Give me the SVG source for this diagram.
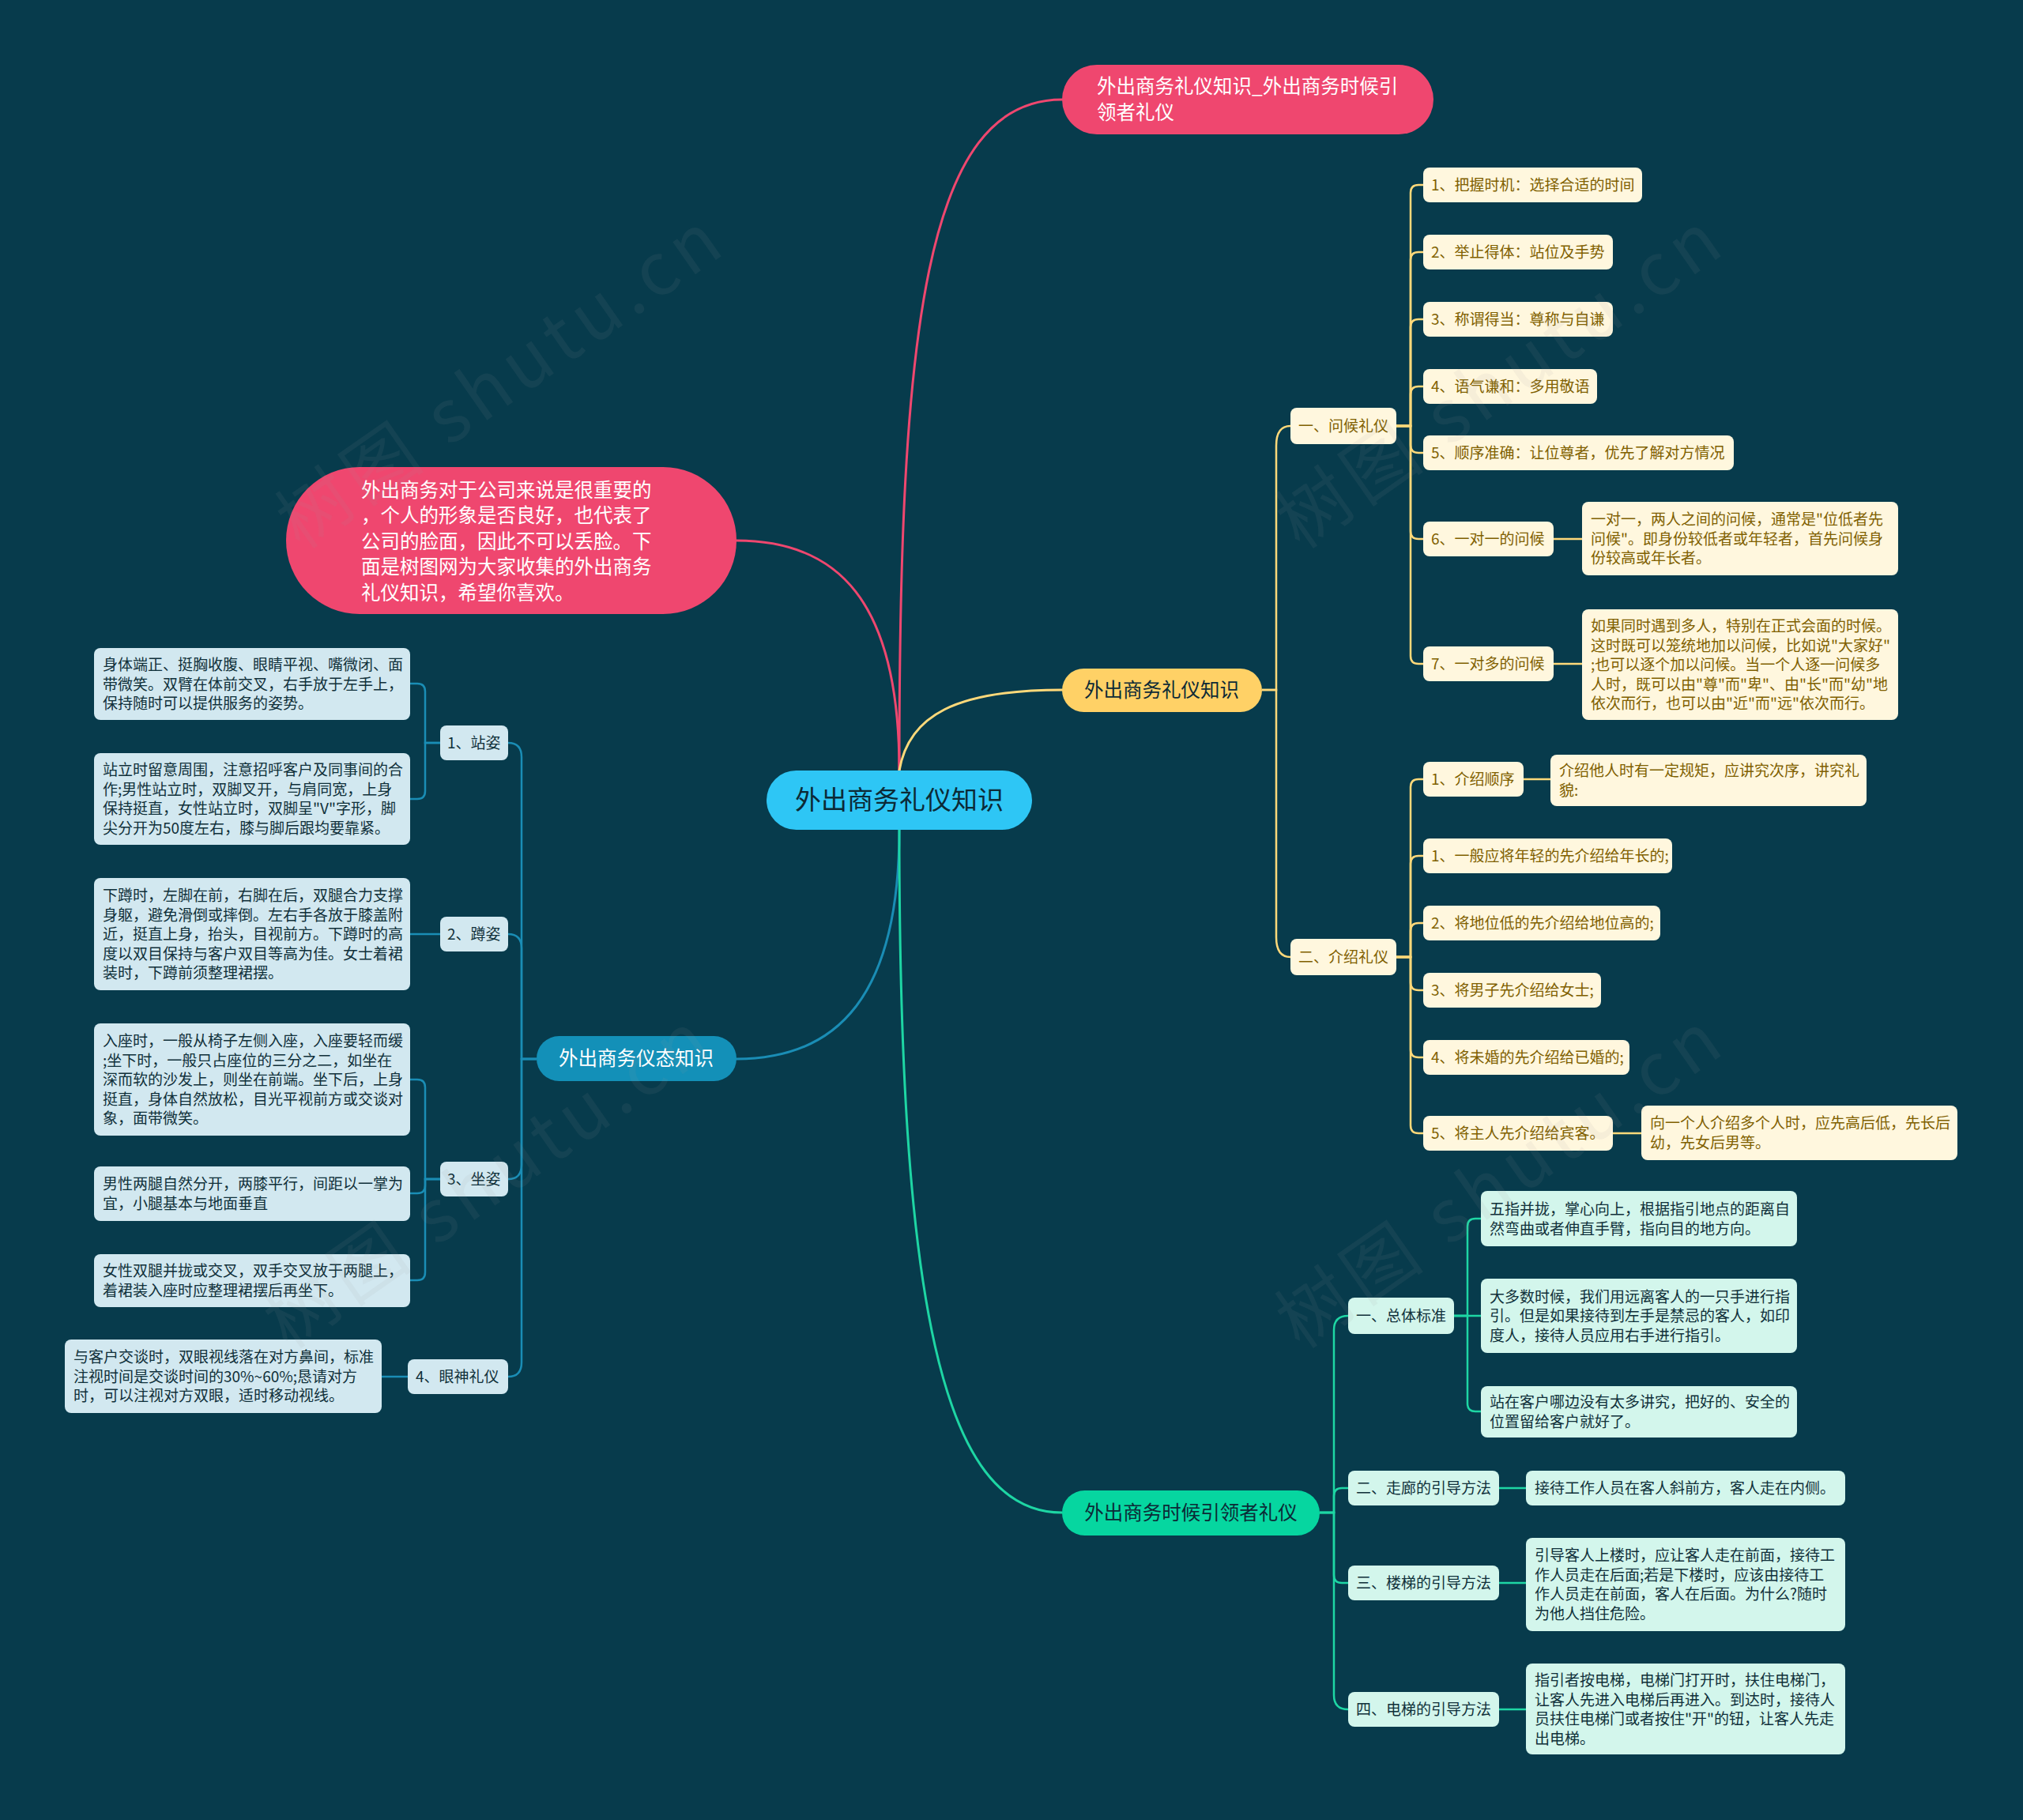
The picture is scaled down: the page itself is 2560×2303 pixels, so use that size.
<svg xmlns="http://www.w3.org/2000/svg" width="2560" height="2303" viewBox="0 0 2560 2303">
<style>
text{font-family:"Noto Sans CJK SC","Liberation Sans",sans-serif;}
.bg{fill:#073B4C;}
.pk{fill:#EF476F;}
.ctr{fill:#2EC6F5;}
.ym{fill:#FFD166;}
.gm{fill:#06D6A0;}
.bm{fill:#1390B8;}
.yl{fill:#FFF7DE;}
.gl{fill:#D3F6EC;}
.bl{fill:#D2E8F0;}
.ty{font-size:19px;fill:#7F6000;}
.tg{font-size:19px;fill:#10303A;}
.tb{font-size:19px;fill:#10303A;}
.tw{font-size:24.5px;fill:#FFFFFF;}
.tm{font-size:24.5px;fill:#0C2A36;}
.c{fill:none;stroke-width:3;stroke-linecap:round;}
.s{fill:none;stroke-width:2.5;}
.cp{stroke:#EF476F;}
.cy{stroke:#FFD97A;}
.cg{stroke:#1ED6A4;}
.cb{stroke:#1A8DB5;}
.wm{font-size:92px;fill:#9A9A9A;fill-opacity:0.09;letter-spacing:8px;}
</style>
<rect class="bg" x="0" y="0" width="2560" height="2303"/>

<g id="connectors">
<path class="c cp" d="M1138,975 C1138,420 1170,126 1344,126"/>
<path class="c cp" d="M1138,975 C1138,760 1060,684 932,684"/>
<path class="c cy" d="M1138,975 C1150,905 1210,873 1344,873"/>
<path class="c cb" d="M1138,1050 C1138,1260 1060,1340 932,1340"/>
<path class="c cg" d="M1138,1050 C1138,1640 1190,1914 1344,1914"/>

<path class="s cy" d="M1597,873 H1615 V564 Q1615,539 1633,539"/>
<path class="s cy" d="M1597,873 H1615 V1186 Q1615,1211 1633,1211"/>

<path class="s cy" d="M1767,539 H1785 V244 Q1785,234 1795,234 H1801"/>
<path class="s cy" d="M1767,539 H1785 V329 Q1785,319 1795,319 H1801"/>
<path class="s cy" d="M1767,539 H1785 V414 Q1785,404 1795,404 H1801"/>
<path class="s cy" d="M1767,539 H1785 V499 Q1785,489 1795,489 H1801"/>
<path class="s cy" d="M1767,539 H1785 V563 Q1785,573 1795,573 H1801"/>
<path class="s cy" d="M1767,539 H1785 V672 Q1785,682 1795,682 H1801"/>
<path class="s cy" d="M1767,539 H1785 V830 Q1785,840 1795,840 H1801"/>
<path class="s cy" d="M1966,682 H2002"/>
<path class="s cy" d="M1966,840 H2002"/>

<path class="s cy" d="M1767,1211 H1785 V996 Q1785,986 1795,986 H1801"/>
<path class="s cy" d="M1767,1211 H1785 V1093 Q1785,1083 1795,1083 H1801"/>
<path class="s cy" d="M1767,1211 H1785 V1178 Q1785,1168 1795,1168 H1801"/>
<path class="s cy" d="M1767,1211 H1785 V1243 Q1785,1253 1795,1253 H1801"/>
<path class="s cy" d="M1767,1211 H1785 V1328 Q1785,1338 1795,1338 H1801"/>
<path class="s cy" d="M1767,1211 H1785 V1424 Q1785,1434 1795,1434 H1801"/>
<path class="s cy" d="M1928,986 H1962"/>
<path class="s cy" d="M2041,1434 H2077"/>

<path class="s cg" d="M1670,1914 H1688 V1683 Q1688,1665 1706,1665"/>
<path class="s cg" d="M1670,1914 H1688 V1893 Q1688,1883 1698,1883 H1706"/>
<path class="s cg" d="M1670,1914 H1688 V1993 Q1688,2003 1698,2003 H1706"/>
<path class="s cg" d="M1670,1914 H1688 V2145 Q1688,2163 1706,2163"/>
<path class="s cg" d="M1840,1665 H1857 V1552 Q1857,1542 1867,1542 H1874"/>
<path class="s cg" d="M1840,1665 H1874"/>
<path class="s cg" d="M1840,1665 H1857 V1776 Q1857,1786 1867,1786 H1874"/>
<path class="s cg" d="M1897,1883 H1931"/>
<path class="s cg" d="M1897,2003 H1931"/>
<path class="s cg" d="M1897,2163 H1931"/>

<path class="s cb" d="M679,1340 H660 V958 Q660,940 643,940"/>
<path class="s cb" d="M679,1340 H660 V1200 Q660,1182 643,1182"/>
<path class="s cb" d="M679,1340 H660 V1474 Q660,1492 643,1492"/>
<path class="s cb" d="M679,1340 H660 V1724 Q660,1742 643,1742"/>
<path class="s cb" d="M557,940 H538 V875 Q538,865 528,865 H519"/>
<path class="s cb" d="M557,940 H538 V1001 Q538,1011 528,1011 H519"/>
<path class="s cb" d="M557,1182 H519"/>
<path class="s cb" d="M557,1492 H538 V1376 Q538,1366 528,1366 H519"/>
<path class="s cb" d="M557,1492 H538 V1500 Q538,1510 528,1510 H519"/>
<path class="s cb" d="M557,1492 H538 V1610 Q538,1620 528,1620 H519"/>
<path class="s cb" d="M516,1742 H483"/>
</g>

<g id="center">
<rect class="ctr" x="970" y="975" width="336" height="75" rx="37.5"/>
<text x="1138" y="1024" text-anchor="middle" style="font-size:33px;fill:#0C2A36">外出商务礼仪知识</text>
</g>

<g id="title-node">
<rect class="pk" x="1344" y="82" width="470" height="88" rx="44"/>
<text class="tw" x="1388" y="118">外出商务礼仪知识_外出商务时候引</text>
<text class="tw" x="1388" y="151">领者礼仪</text>
</g>

<g id="intro-node">
<rect class="pk" x="362" y="591" width="570" height="186" rx="93"/>
<text class="tw" x="457" y="629">外出商务对于公司来说是很重要的</text>
<text class="tw" x="457" y="661">，个人的形象是否良好，也代表了</text>
<text class="tw" x="457" y="694">公司的脸面，因此不可以丢脸。下</text>
<text class="tw" x="457" y="726">面是树图网为大家收集的外出商务</text>
<text class="tw" x="457" y="759">礼仪知识，希望你喜欢。</text>
</g>

<g id="yellow-main">
<rect class="ym" x="1344" y="846" width="253" height="55" rx="27.5"/>
<text class="tm" x="1470" y="882" text-anchor="middle">外出商务礼仪知识</text>
</g>

<g id="y-greet">
<rect class="yl" x="1633" y="516" width="134" height="46" rx="8"/>
<text class="ty" x="1643" y="546">一、问候礼仪</text>
</g>
<g id="y-intro">
<rect class="yl" x="1633" y="1188" width="134" height="46" rx="8"/>
<text class="ty" x="1643" y="1218">二、介绍礼仪</text>
</g>

<g id="y1"><rect class="yl" x="1801" y="212" width="277" height="44" rx="8"/><text class="ty" x="1811" y="241">1、把握时机：选择合适的时间</text></g>
<g id="y2"><rect class="yl" x="1801" y="297" width="240" height="44" rx="8"/><text class="ty" x="1811" y="326">2、举止得体：站位及手势</text></g>
<g id="y3"><rect class="yl" x="1801" y="382" width="240" height="44" rx="8"/><text class="ty" x="1811" y="411">3、称谓得当：尊称与自谦</text></g>
<g id="y4"><rect class="yl" x="1801" y="467" width="220" height="44" rx="8"/><text class="ty" x="1811" y="496">4、语气谦和：多用敬语</text></g>
<g id="y5"><rect class="yl" x="1801" y="551" width="393" height="44" rx="8"/><text class="ty" x="1811" y="580">5、顺序准确：让位尊者，优先了解对方情况</text></g>
<g id="y6"><rect class="yl" x="1801" y="660" width="165" height="44" rx="8"/><text class="ty" x="1811" y="689">6、一对一的问候</text></g>
<g id="y6d"><rect class="yl" x="2002" y="635" width="400" height="93" rx="8"/>
<text class="ty" x="2013" y="664">一对一，两人之间的问候，通常是"位低者先</text>
<text class="ty" x="2013" y="688.5">问候"。即身份较低者或年轻者，首先问候身</text>
<text class="ty" x="2013" y="713">份较高或年长者。</text></g>
<g id="y7"><rect class="yl" x="1801" y="818" width="165" height="44" rx="8"/><text class="ty" x="1811" y="847">7、一对多的问候</text></g>
<g id="y7d"><rect class="yl" x="2002" y="771" width="400" height="140" rx="8"/>
<text class="ty" x="2013" y="799">如果同时遇到多人，特别在正式会面的时候。</text>
<text class="ty" x="2013" y="823.5">这时既可以笼统地加以问候，比如说"大家好"</text>
<text class="ty" x="2013" y="848">;也可以逐个加以问候。当一个人逐一问候多</text>
<text class="ty" x="2013" y="872.5">人时，既可以由"尊"而"卑"、由"长"而"幼"地</text>
<text class="ty" x="2013" y="897">依次而行，也可以由"近"而"远"依次而行。</text></g>

<g id="m1"><rect class="yl" x="1801" y="964" width="127" height="44" rx="8"/><text class="ty" x="1811" y="993">1、介绍顺序</text></g>
<g id="m1d"><rect class="yl" x="1962" y="955" width="400" height="65" rx="8"/>
<text class="ty" x="1973" y="982">介绍他人时有一定规矩，应讲究次序，讲究礼</text>
<text class="ty" x="1973" y="1006.5">貌:</text></g>
<g id="m2"><rect class="yl" x="1801" y="1061" width="315" height="44" rx="8"/><text class="ty" x="1811" y="1090">1、一般应将年轻的先介绍给年长的;</text></g>
<g id="m3"><rect class="yl" x="1801" y="1146" width="300" height="44" rx="8"/><text class="ty" x="1811" y="1175">2、将地位低的先介绍给地位高的;</text></g>
<g id="m4"><rect class="yl" x="1801" y="1231" width="225" height="44" rx="8"/><text class="ty" x="1811" y="1260">3、将男子先介绍给女士;</text></g>
<g id="m5"><rect class="yl" x="1801" y="1316" width="261" height="44" rx="8"/><text class="ty" x="1811" y="1345">4、将未婚的先介绍给已婚的;</text></g>
<g id="m6"><rect class="yl" x="1801" y="1412" width="240" height="44" rx="8"/><text class="ty" x="1811" y="1441">5、将主人先介绍给宾客。</text></g>
<g id="m6d"><rect class="yl" x="2077" y="1399" width="400" height="69" rx="8"/>
<text class="ty" x="2088" y="1428">向一个人介绍多个人时，应先高后低，先长后</text>
<text class="ty" x="2088" y="1452.5">幼，先女后男等。</text></g>

<g id="green-main">
<rect class="gm" x="1344" y="1886" width="326" height="57" rx="28.5"/>
<text class="tm" x="1507" y="1923" text-anchor="middle">外出商务时候引领者礼仪</text>
</g>
<g id="g1"><rect class="gl" x="1706" y="1642" width="134" height="46" rx="8"/><text class="tg" x="1716" y="1672">一、总体标准</text></g>
<g id="g1a"><rect class="gl" x="1874" y="1507" width="400" height="70" rx="8"/>
<text class="tg" x="1885" y="1537">五指并拢，掌心向上，根据指引地点的距离自</text>
<text class="tg" x="1885" y="1561.5">然弯曲或者伸直手臂，指向目的地方向。</text></g>
<g id="g1b"><rect class="gl" x="1874" y="1618" width="400" height="94" rx="8"/>
<text class="tg" x="1885" y="1647.5">大多数时候，我们用远离客人的一只手进行指</text>
<text class="tg" x="1885" y="1672">引。但是如果接待到左手是禁忌的客人，如印</text>
<text class="tg" x="1885" y="1696.5">度人，接待人员应用右手进行指引。</text></g>
<g id="g1c"><rect class="gl" x="1874" y="1754" width="400" height="65" rx="8"/>
<text class="tg" x="1885" y="1781">站在客户哪边没有太多讲究，把好的、安全的</text>
<text class="tg" x="1885" y="1805.5">位置留给客户就好了。</text></g>
<g id="g2"><rect class="gl" x="1706" y="1861" width="191" height="44" rx="8"/><text class="tg" x="1716" y="1890">二、走廊的引导方法</text></g>
<g id="g2d"><rect class="gl" x="1931" y="1861" width="404" height="44" rx="8"/><text class="tg" x="1942" y="1890">接待工作人员在客人斜前方，客人走在内侧。</text></g>
<g id="g3"><rect class="gl" x="1706" y="1981" width="191" height="44" rx="8"/><text class="tg" x="1716" y="2010">三、楼梯的引导方法</text></g>
<g id="g3d"><rect class="gl" x="1931" y="1946" width="404" height="118" rx="8"/>
<text class="tg" x="1942" y="1975">引导客人上楼时，应让客人走在前面，接待工</text>
<text class="tg" x="1942" y="1999.5">作人员走在后面;若是下楼时，应该由接待工</text>
<text class="tg" x="1942" y="2024">作人员走在前面，客人在后面。为什么?随时</text>
<text class="tg" x="1942" y="2048.5">为他人挡住危险。</text></g>
<g id="g4"><rect class="gl" x="1706" y="2141" width="191" height="44" rx="8"/><text class="tg" x="1716" y="2170">四、电梯的引导方法</text></g>
<g id="g4d"><rect class="gl" x="1931" y="2105" width="404" height="115" rx="8"/>
<text class="tg" x="1942" y="2133">指引者按电梯，电梯门打开时，扶住电梯门，</text>
<text class="tg" x="1942" y="2157.5">让客人先进入电梯后再进入。到达时，接待人</text>
<text class="tg" x="1942" y="2182">员扶住电梯门或者按住"开"的钮，让客人先走</text>
<text class="tg" x="1942" y="2206.5">出电梯。</text></g>

<g id="blue-main">
<rect class="bm" x="679" y="1311" width="253" height="57" rx="28.5"/>
<text class="tw" x="805" y="1348" text-anchor="middle">外出商务仪态知识</text>
</g>
<g id="b1"><rect class="bl" x="557" y="918" width="86" height="44" rx="8"/><text class="tb" x="566" y="947">1、站姿</text></g>
<g id="b1a"><rect class="bl" x="119" y="820" width="400" height="91" rx="8"/>
<text class="tb" x="130" y="848">身体端正、挺胸收腹、眼睛平视、嘴微闭、面</text>
<text class="tb" x="130" y="872.5">带微笑。双臂在体前交叉，右手放于左手上，</text>
<text class="tb" x="130" y="897">保持随时可以提供服务的姿势。</text></g>
<g id="b1b"><rect class="bl" x="119" y="953" width="400" height="116" rx="8"/>
<text class="tb" x="130" y="981">站立时留意周围，注意招呼客户及同事间的合</text>
<text class="tb" x="130" y="1005.5">作;男性站立时，双脚叉开，与肩同宽，上身</text>
<text class="tb" x="130" y="1030">保持挺直，女性站立时，双脚呈"V"字形，脚</text>
<text class="tb" x="130" y="1054.5">尖分开为50度左右，膝与脚后跟均要靠紧。</text></g>
<g id="b2"><rect class="bl" x="557" y="1160" width="86" height="44" rx="8"/><text class="tb" x="566" y="1189">2、蹲姿</text></g>
<g id="b2a"><rect class="bl" x="119" y="1111" width="400" height="142" rx="8"/>
<text class="tb" x="130" y="1140">下蹲时，左脚在前，右脚在后，双腿合力支撑</text>
<text class="tb" x="130" y="1164.5">身躯，避免滑倒或摔倒。左右手各放于膝盖附</text>
<text class="tb" x="130" y="1189">近，挺直上身，抬头，目视前方。下蹲时的高</text>
<text class="tb" x="130" y="1213.5">度以双目保持与客户双目等高为佳。女士着裙</text>
<text class="tb" x="130" y="1238">装时，下蹲前须整理裙摆。</text></g>
<g id="b3"><rect class="bl" x="557" y="1470" width="86" height="44" rx="8"/><text class="tb" x="566" y="1499">3、坐姿</text></g>
<g id="b3a"><rect class="bl" x="119" y="1295" width="400" height="142" rx="8"/>
<text class="tb" x="130" y="1324">入座时，一般从椅子左侧入座，入座要轻而缓</text>
<text class="tb" x="130" y="1348.5">;坐下时，一般只占座位的三分之二，如坐在</text>
<text class="tb" x="130" y="1373">深而软的沙发上，则坐在前端。坐下后，上身</text>
<text class="tb" x="130" y="1397.5">挺直，身体自然放松，目光平视前方或交谈对</text>
<text class="tb" x="130" y="1422">象，面带微笑。</text></g>
<g id="b3b"><rect class="bl" x="119" y="1476" width="400" height="69" rx="8"/>
<text class="tb" x="130" y="1505">男性两腿自然分开，两膝平行，间距以一掌为</text>
<text class="tb" x="130" y="1529.5">宜，小腿基本与地面垂直</text></g>
<g id="b3c"><rect class="bl" x="119" y="1587" width="400" height="67" rx="8"/>
<text class="tb" x="130" y="1615">女性双腿并拢或交叉，双手交叉放于两腿上，</text>
<text class="tb" x="130" y="1639.5">着裙装入座时应整理裙摆后再坐下。</text></g>
<g id="b4"><rect class="bl" x="516" y="1720" width="127" height="44" rx="8"/><text class="tb" x="526" y="1749">4、眼神礼仪</text></g>
<g id="b4a"><rect class="bl" x="82" y="1695" width="401" height="93" rx="8"/>
<text class="tb" x="93" y="1724">与客户交谈时，双眼视线落在对方鼻间，标准</text>
<text class="tb" x="93" y="1748.5">注视时间是交谈时间的30%~60%;恳请对方</text>
<text class="tb" x="93" y="1773">时，可以注视对方双眼，适时移动视线。</text></g>

<g id="watermarks">
<text class="wm" transform="translate(653,506) rotate(-35)" text-anchor="middle">树图 shutu.cn</text>
<text class="wm" transform="translate(1918,506) rotate(-35)" text-anchor="middle">树图 shutu.cn</text>
<text class="wm" transform="translate(637,1518) rotate(-35)" text-anchor="middle">树图 shutu.cn</text>
<text class="wm" transform="translate(1918,1518) rotate(-35)" text-anchor="middle">树图 shutu.cn</text>
</g>
</svg>
